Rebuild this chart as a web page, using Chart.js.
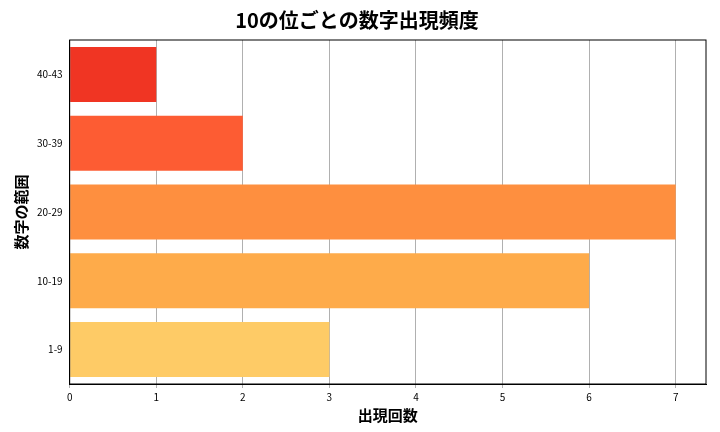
<!DOCTYPE html>
<html><head><meta charset="utf-8">
<script src="https://cdn.jsdelivr.net/npm/chart.js@4"></script>
<style>html,body{margin:0;padding:0;background:#fff}#w{width:720px;height:432px}</style>
</head><body><div id="w"><canvas id="c"></canvas></div>
<script>
const categories = ['1-9','10-19','20-29','30-39','40-43'];
const counts = [3, 6, 7, 2, 1];
const barColors = ['#fecb66','#feab4a','#fe8f3f','#fd5c33','#f03523'];
const xTicks = [0,1,2,3,4,5,6,7];
const F = "'Noto Sans CJK JP', 'Noto Sans', sans-serif";
new Chart(document.getElementById('c'), {
  type: 'bar',
  data: { labels: categories, datasets: [{ data: counts, backgroundColor: barColors, categoryPercentage: 1, barPercentage: 0.8 }] },
  options: {
    indexAxis: 'y', responsive: true, maintainAspectRatio: false, animation: false,
    layout: { padding: { left: 8, right: 14, top: 4, bottom: 4 } },
    plugins: { legend: { display: false }, tooltip: { enabled: false },
      title: { display: true, text: '10の位ごとの数字出現頻度', color: '#000', font: { family: F, size: 20, weight: 'bold' }, padding: { top: 4, bottom: 8 } } },
    scales: {
      x: { min: 0, max: 7.35, afterBuildTicks: a => { a.ticks = xTicks.map(v => ({ value: v })); },
        ticks: { color: '#000', font: { family: F, size: 10 }, maxRotation: 0 },
        grid: { color: '#b0b0b0', drawTicks: true, tickLength: 4 }, border: { color: '#000' },
        title: { display: true, text: '出現回数', color: '#000', font: { family: F, size: 15, weight: 'bold' }, padding: { top: 0 } } },
      y: { reverse: true, ticks: { color: '#000', font: { family: F, size: 10 } },
        grid: { display: false, drawTicks: true, tickLength: 4 }, border: { color: '#000' },
        title: { display: true, text: '数字の範囲', color: '#000', font: { family: F, size: 15, weight: 'bold' } } }
    }
  },
  plugins: [{ id: 'box', afterDraw(ch) { const a = ch.chartArea, c = ch.ctx; c.save(); c.strokeStyle = '#000'; c.lineWidth = 1; c.strokeRect(a.left, a.top, a.right - a.left, a.bottom - a.top); c.restore(); } }]
});
</script></body></html>
